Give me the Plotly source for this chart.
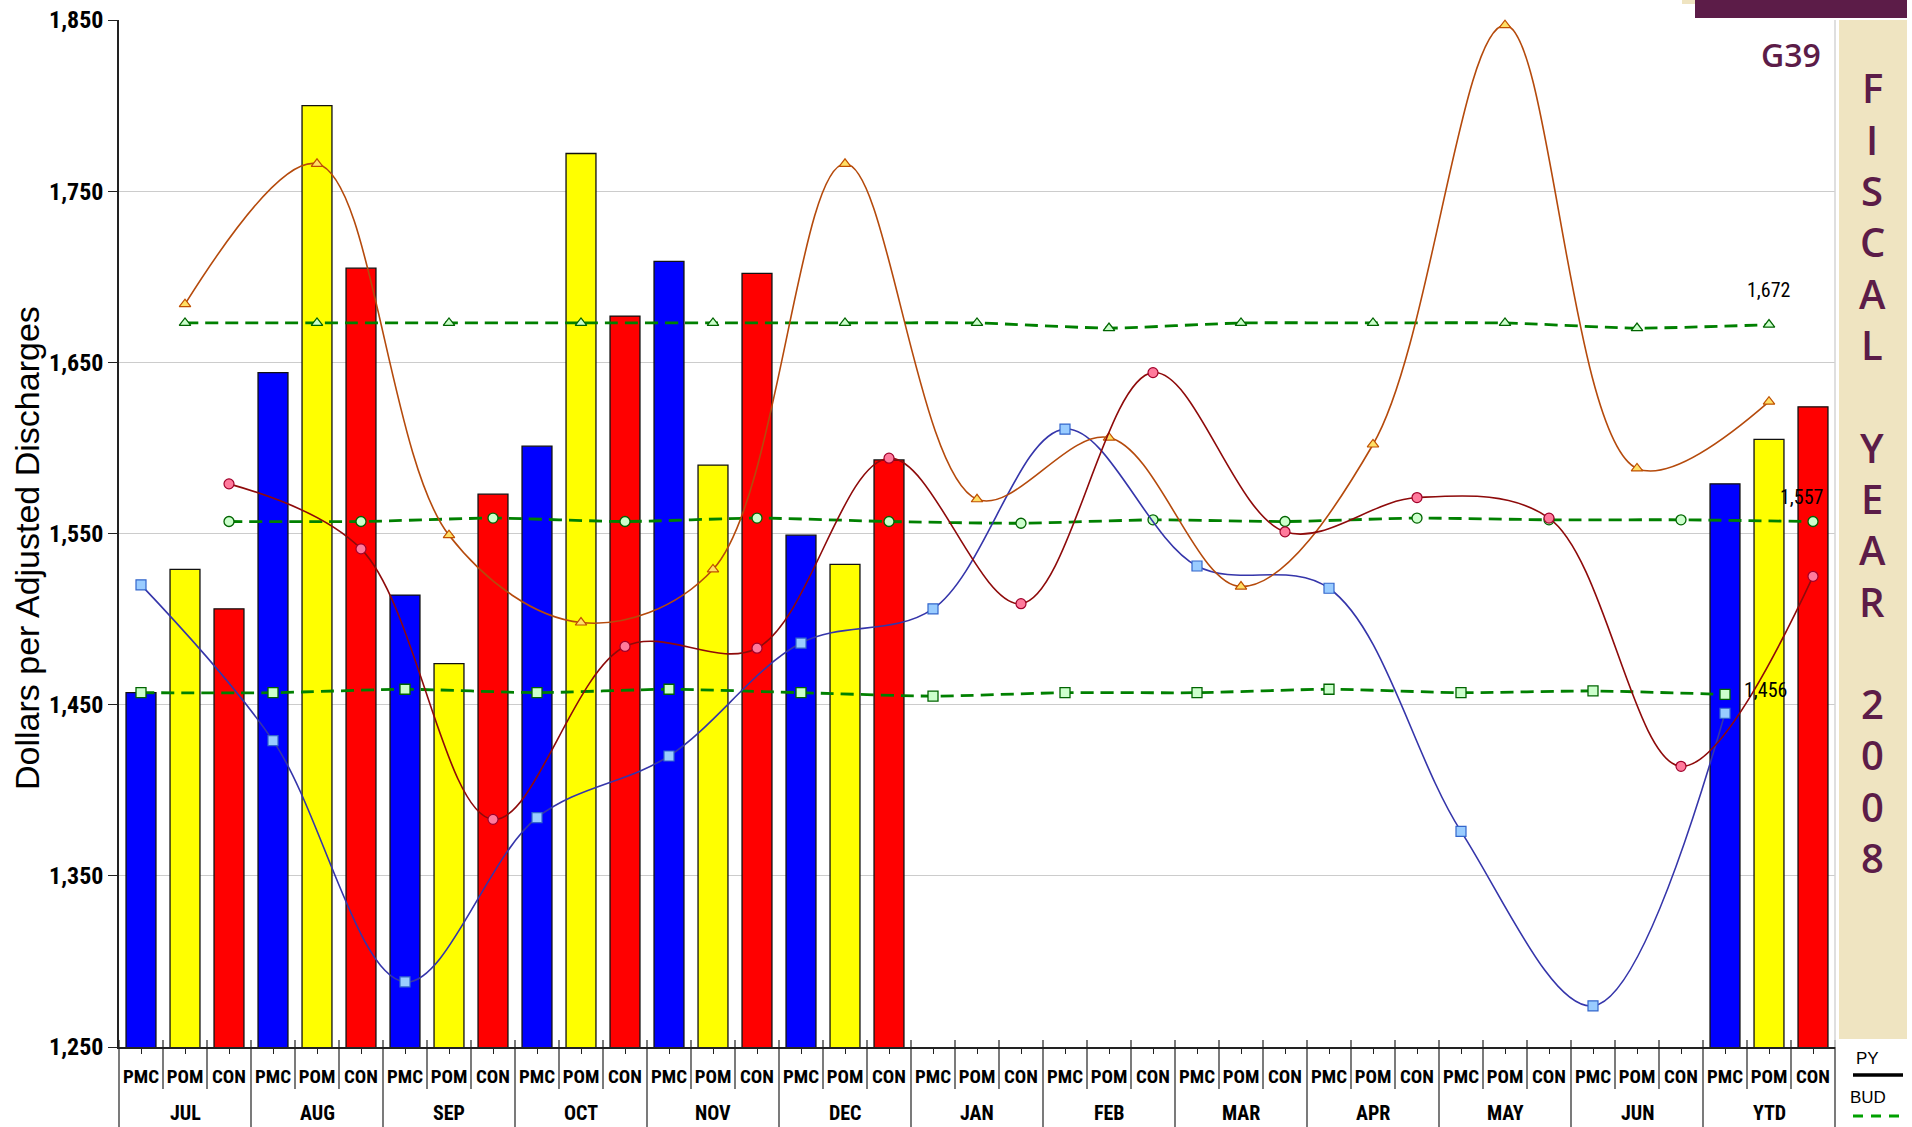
import plotly.graph_objects as go

# ---- categories ----
months = ["JUL", "AUG", "SEP", "OCT", "NOV", "DEC", "JAN", "FEB", "MAR", "APR", "MAY", "JUN", "YTD"]
groups = ["PMC", "POM", "CON"]

# ---- current fiscal year (bars); months not yet reported are blank ----
pmc_cur = [1457, 1644, 1514, 1601, 1709, 1549, None, None, None, None, None, None, 1579]
pom_cur = [1529, 1800, 1474, 1772, 1590, 1532, None, None, None, None, None, None, 1605]
con_cur = [1506, 1705, 1573, 1677, 1702, 1593, None, None, None, None, None, None, 1624]

# ---- prior year ----
pmc_py = [1520, 1429, 1288, 1384, 1420, 1486, 1506, 1611, 1531, 1518, 1376, 1274, 1445]
pom_py = [1684, 1766, 1549, 1498, 1529, 1766, 1570, 1606, 1519, 1602, 1847, 1588, 1627]
con_py = [1579, 1541, 1383, 1484, 1483, 1594, 1509, 1644, 1551, 1571, 1559, 1414, 1525]

# ---- budget ----
pmc_bud = [1457, 1457, 1459, 1457, 1459, 1457, 1455, 1457, 1457, 1459, 1457, 1458, 1456]
pom_bud = [1673, 1673, 1673, 1673, 1673, 1673, 1673, 1670, 1673, 1673, 1673, 1670, 1672]
con_bud = [1557, 1557, 1559, 1557, 1559, 1557, 1556, 1558, 1557, 1559, 1558, 1558, 1557]

y_ticks = [1250, 1350, 1450, 1550, 1650, 1750, 1850]

bar_colors = {"PMC": "#0000FF", "POM": "#FFFF00", "CON": "#FF0000"}

W, H = 1912, 1127
L, R, T, B = 119, 1835, 20, 1047          # plot area in pixels


def px_x(px):
    return (px - L) / (R - L)


def px_y(py):
    return (B - py) / (B - T)


NARROW = "Liberation Sans Narrow, Roboto Condensed, DejaVu Sans Condensed, Liberation Sans, sans-serif"
PURPLE = "#5C1C48"


def slot(m, g):
    return f"{m} {g}"


slots = [slot(m, g) for m in months for g in groups]
slot_text = [g for m in months for g in groups]
n_slots = len(slots)

fig = go.Figure()

# bars: one trace across every month/group slot
cur = {"PMC": pmc_cur, "POM": pom_cur, "CON": con_cur}
by = [cur[g][i] for i in range(len(months)) for g in groups]
bc = [bar_colors[g] for m in months for g in groups]

fig.add_trace(go.Bar(
    x=slots, y=by, width=0.68,
    marker=dict(color=bc, line=dict(color="#111111", width=1.3)),
    showlegend=False, hoverinfo="skip",
))


def xs(g):
    return [slot(m, g) for m in months]


def budget_trace(vals, g, symbol):
    return go.Scatter(
        x=xs(g), y=vals, mode="lines+markers",
        line=dict(color="#008000", width=2.8, dash="13px,7px", shape="spline", smoothing=0.6),
        marker=dict(symbol=symbol, size=10, color="#CCFFCC", line=dict(color="#006400", width=1.3)),
        showlegend=False, hoverinfo="skip", cliponaxis=False,
    )


fig.add_trace(budget_trace(pmc_bud, "PMC", "square"))
fig.add_trace(budget_trace(pom_bud, "POM", "triangle-up"))
fig.add_trace(budget_trace(con_bud, "CON", "circle"))


def py_trace(vals, g, color, fill, edge, symbol):
    return go.Scatter(
        x=xs(g), y=vals, mode="lines+markers",
        line=dict(color=color, width=1.6, shape="spline", smoothing=1.0),
        marker=dict(symbol=symbol, size=10, color=fill, line=dict(color=edge, width=1.2)),
        showlegend=False, hoverinfo="skip", cliponaxis=False,
    )


fig.add_trace(py_trace(pmc_py, "PMC", "#3535AA", "#99CCFF", "#3366CC", "square"))
fig.add_trace(py_trace(pom_py, "POM", "#B54A0C", "#FFE066", "#C05000", "triangle-up"))
fig.add_trace(py_trace(con_py, "CON", "#8E0A0A", "#FF7A9C", "#A0002A", "circle"))

shapes = []
# separators: short ones between groups, full-height ones between months
for k in range(0, n_slots + 1):
    if k % 3:
        y_end = px_y(B + 42)
    else:
        y_end = px_y(H)
    shapes.append(dict(type="line", xref="paper", yref="paper",
                       x0=k / n_slots, x1=k / n_slots, y0=px_y(B - 7), y1=y_end,
                       line=dict(color="#222222", width=1.2)))
# light frame on the right of the plot area
shapes.append(dict(type="line", xref="paper", yref="paper", x0=1, x1=1, y0=0, y1=1,
                   line=dict(color="#D4D4D4", width=1.5)))
# side banner
shapes.append(dict(type="rect", xref="paper", yref="paper", layer="below",
                   x0=px_x(1839), x1=px_x(1907), y0=px_y(1039), y1=px_y(20),
                   fillcolor="#EFE4C1", line=dict(width=0)))
shapes.append(dict(type="rect", xref="paper", yref="paper",
                   x0=px_x(1695), x1=px_x(1907), y0=px_y(18), y1=px_y(0),
                   fillcolor=PURPLE, line=dict(width=0)))
shapes.append(dict(type="rect", xref="paper", yref="paper",
                   x0=px_x(1682), x1=px_x(1695), y0=px_y(4), y1=px_y(0),
                   fillcolor="#EFE4C1", line=dict(width=0)))
# key
shapes.append(dict(type="line", xref="paper", yref="paper",
                   x0=px_x(1853), x1=px_x(1903), y0=px_y(1075), y1=px_y(1075),
                   line=dict(color="#000000", width=3.5)))
shapes.append(dict(type="line", xref="paper", yref="paper",
                   x0=px_x(1853), x1=px_x(1903), y0=px_y(1116), y1=px_y(1116),
                   line=dict(color="#00A000", width=3, dash="10px,8px")))

LABEL_FONT = dict(family=NARROW, size=20, color="#000000")


def slot_x(month, group):
    return (slots.index(slot(month, group)) + 0.5) / n_slots


annotations = [
    # year-to-date budget values
    dict(text=f"{pom_bud[-1]:,}", xref="paper", yref="y", x=slot_x("YTD", "POM"), y=pom_bud[-1],
         xanchor="center", yanchor="middle", yshift=35, showarrow=False, font=LABEL_FONT),
    dict(text=f"{con_bud[-1]:,}", xref="paper", yref="y", x=slot_x("YTD", "CON"), y=con_bud[-1],
         xanchor="center", yanchor="middle", xshift=-12, yshift=25, showarrow=False, font=LABEL_FONT),
    dict(text=f"{pmc_bud[-1]:,}", xref="paper", yref="y", x=slot_x("YTD", "PMC"), y=pmc_bud[-1],
         xanchor="left", yanchor="middle", xshift=17, yshift=4, showarrow=False, font=LABEL_FONT),
    # axis title
    dict(text="Dollars per Adjusted Discharges", xref="paper", yref="paper",
         x=px_x(27), y=px_y(548), textangle=-90, xanchor="center", yanchor="middle",
         showarrow=False, font=dict(family="Liberation Sans, Arial, sans-serif", size=34, color="#000000")),
    dict(text="G39", xref="paper", yref="paper", x=px_x(1823), y=px_y(54),
         xanchor="right", yanchor="middle", showarrow=False,
         font=dict(family="Open Sans, Lato, sans-serif", size=32, color=PURPLE, weight=600)),
    dict(text="PY", xref="paper", yref="paper", x=px_x(1868), y=px_y(1058),
         xanchor="center", yanchor="middle", showarrow=False,
         font=dict(family="Liberation Sans, Arial, sans-serif", size=17, color="#000000")),
    dict(text="BUD", xref="paper", yref="paper", x=px_x(1868), y=px_y(1097),
         xanchor="center", yanchor="middle", showarrow=False,
         font=dict(family="Liberation Sans, Arial, sans-serif", size=17, color="#000000")),
]
# month names under each group of three
for i, m in enumerate(months):
    annotations.append(dict(
        text=m, xref="paper", yref="paper", x=(3 * i + 1.5) / n_slots, y=px_y(1113),
        xanchor="center", yanchor="middle", showarrow=False,
        font=dict(family=NARROW, size=20, color="#000000", weight="bold")))

banner = ["F", "I", "S", "C", "A", "L", "", "Y", "E", "A", "R", "", "2", "0", "0", "8"]
for i, ch in enumerate(banner):
    if ch:
        annotations.append(dict(
            text=ch, xref="paper", yref="paper", x=px_x(1872), y=px_y(88 + i * 51.3),
            xanchor="center", yanchor="middle", showarrow=False,
            font=dict(family="Open Sans, Lato, sans-serif", size=40, color=PURPLE, weight=600)))

fig.update_layout(
    width=W, height=H,
    margin=dict(l=L, r=W - R, t=T, b=H - B, autoexpand=False),
    paper_bgcolor="#FFFFFF", plot_bgcolor="#FFFFFF",
    barmode="overlay",
    showlegend=False,
    shapes=shapes, annotations=annotations,
    xaxis=dict(
        type="category", categoryorder="array", categoryarray=slots,
        range=[-0.5, n_slots - 0.5], tickangle=0,
        tickmode="array", tickvals=slots, ticktext=slot_text,
        showline=True, linecolor="#222222", linewidth=1.5,
        ticks="outside", ticklen=5, tickcolor="#222222", ticklabelstandoff=6,
        tickfont=dict(family=NARROW, size=19, color="#000000", weight="bold"),
        showgrid=False, automargin=False,
    ),
    yaxis=dict(
        range=[y_ticks[0], y_ticks[-1]], tickvals=y_ticks, tickformat=",d",
        showgrid=True, gridcolor="#CCCCCC", gridwidth=1.2,
        showline=True, linecolor="#222222", linewidth=1.5,
        ticks="outside", ticklen=9, tickcolor="#222222",
        tickfont=dict(family=NARROW, size=24, color="#000000", weight="bold"),
        zeroline=False, automargin=False,
    ),
)

fig.write_html("out.html")
